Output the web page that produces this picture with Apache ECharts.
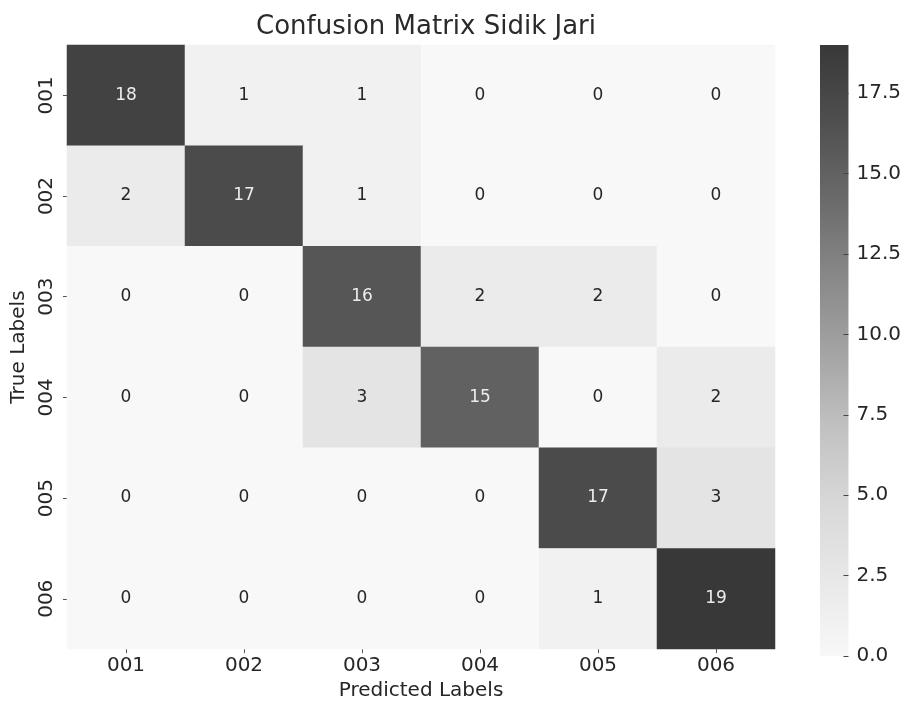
<!DOCTYPE html>
<html>
<head>
<meta charset="utf-8">
<script src="https://cdn.jsdelivr.net/npm/echarts@6/dist/echarts.min.js"></script>
<style>
  html, body { margin: 0; padding: 0; background: #ffffff; }
  #chart { width: 904px; height: 706px; }
</style>
</head>
<body>
<div id="chart"></div>
<script>
// Class labels (same order on both axes)
const predictedLabels = ['001', '002', '003', '004', '005', '006'];
const trueLabels = ['001', '002', '003', '004', '005', '006'];

// Confusion matrix rows: one array per true label, counts per predicted label
const row001 = [18, 1, 1, 0, 0, 0];
const row002 = [2, 17, 1, 0, 0, 0];
const row003 = [0, 0, 16, 2, 2, 0];
const row004 = [0, 0, 3, 15, 0, 2];
const row005 = [0, 0, 0, 0, 17, 3];
const row006 = [0, 0, 0, 0, 1, 19];
const matrixRows = [row001, row002, row003, row004, row005, row006];

// Colour scale range and colourbar tick values
const scaleMin = 0;
const scaleMax = 19;
const colorbarTicks = [0, 2.5, 5, 7.5, 10, 12.5, 15, 17.5];

const FONT = "'DejaVu Sans', 'Noto Sans', sans-serif";
const greyRamp = ['#f8f8f8', '#e8e8e8', '#d8d8d8', '#c1c1c1', '#a3a3a3',
                  '#878787', '#6a6a6a', '#4f4f4f', '#383838'];

const cells = [];
matrixRows.forEach((row, yi) => {
  row.forEach((v, xi) => {
    cells.push({
      value: [xi, yi, v],
      label: { color: v > (scaleMax - scaleMin) / 2 ? '#ececec' : '#262626' }
    });
  });
});

const chart = echarts.init(document.getElementById('chart'), null, { renderer: 'canvas' });

const gradientStops = greyRamp.map((c, i) => ({ offset: 1 - i / (greyRamp.length - 1), color: c }));

chart.setOption({
  backgroundColor: '#ffffff',
  animation: false,
  title: {
    text: 'Confusion Matrix Sidik Jari',
    left: 421,
    textAlign: 'center',
    top: 9,
    textStyle: { fontFamily: FONT, fontSize: 26, fontWeight: 'normal', color: '#2a2a2a' }
  },
  grid: [
    { left: 67, right: 129, top: 45, bottom: 50 },
    {
      left: 820, width: 30, top: 45, bottom: 50,
      show: true, borderWidth: 0,
      backgroundColor: new echarts.graphic.LinearGradient(0, 0, 0, 1, gradientStops)
    }
  ],
  xAxis: [
    {
      type: 'category', gridIndex: 0, data: predictedLabels,
      name: 'Predicted Labels', nameLocation: 'middle', nameGap: 31,
      nameTextStyle: { fontFamily: FONT, fontSize: 20, color: '#262626' },
      axisLine: { show: false },
      axisTick: { show: true, alignWithLabel: true, length: 4, lineStyle: { color: '#555' } },
      axisLabel: { fontFamily: FONT, fontSize: 20, color: '#262626', margin: 7 },
      splitLine: { show: false }
    },
    { type: 'value', gridIndex: 1, show: false, min: 0, max: 1, axisLine: { onZero: false } }
  ],
  yAxis: [
    {
      type: 'category', gridIndex: 0, data: trueLabels, inverse: true,
      name: 'True Labels', nameLocation: 'middle', nameGap: 33, nameRotate: 90,
      nameTextStyle: { fontFamily: FONT, fontSize: 20, color: '#262626' },
      axisLine: { show: false },
      axisTick: { show: true, alignWithLabel: true, length: 4, lineStyle: { color: '#555' } },
      axisLabel: { fontFamily: FONT, fontSize: 20, color: '#262626', rotate: 90, margin: 10 },
      splitLine: { show: false }
    },
    {
      type: 'value', gridIndex: 1, position: 'right',
      min: scaleMin, max: scaleMax,
      axisLine: { show: false, onZero: false },
      axisTick: { show: true, inside: true, length: 5, lineStyle: { color: '#444' }, customValues: colorbarTicks },
      axisLabel: {
        fontFamily: FONT, fontSize: 20, color: '#262626', margin: 8,
        customValues: colorbarTicks,
        formatter: v => v.toFixed(1)
      },
      splitLine: { show: false }
    }
  ],
  visualMap: {
    show: false, type: 'continuous', seriesIndex: 0,
    min: scaleMin, max: scaleMax,
    inRange: { color: greyRamp }
  },
  series: [{
    type: 'heatmap',
    xAxisIndex: 0, yAxisIndex: 0,
    data: cells,
    label: { show: true, fontFamily: FONT, fontSize: 17 },
    itemStyle: { borderWidth: 0 },
    emphasis: { disabled: true }
  }]
});
</script>
</body>
</html>
